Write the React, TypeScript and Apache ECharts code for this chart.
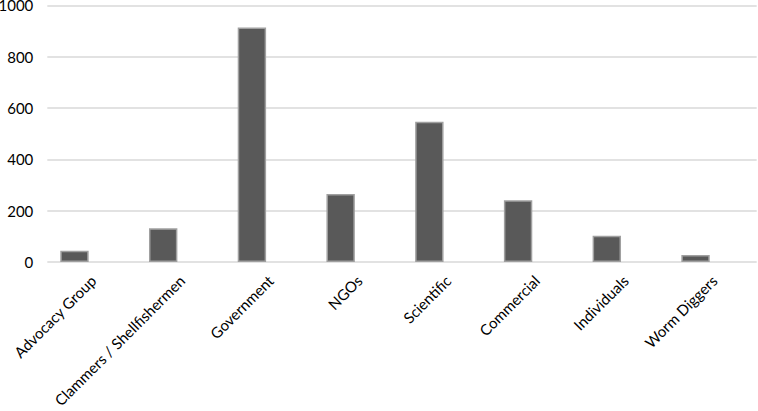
import React, { useEffect, useRef } from "react";
import * as echarts from "echarts";

const categories = [
  "Advocacy Group",
  "Clammers / Shellfishermen",
  "Government",
  "NGOs",
  "Scientific",
  "Commercial",
  "Individuals",
  "Worm Diggers",
];
const values = [44, 131, 914, 265, 546, 241, 102, 27];
const yMin = 0;
const yMax = 1000;
const yInterval = 200;

export default function App() {
  const ref = useRef<HTMLDivElement>(null);
  useEffect(() => {
    if (!ref.current) return;
    const chart = echarts.init(ref.current, undefined, { renderer: "svg" });
    const gridCommon = {
      top: 5.3,
      bottom: 149,
      containLabel: false,
      outerBoundsMode: "none",
    };
    chart.setOption({
      animation: false,
      backgroundColor: "#ffffff",
      grid: [
        // grid for gridlines and value labels
        { ...gridCommon, left: 47.3, right: 1.3 },
        // grid for the bars and category labels
        { ...gridCommon, left: 30.1, right: 18.1 },
      ],
      xAxis: [
        { type: "value", gridIndex: 0, show: false, min: 0, max: 1 },
        {
          type: "category",
          gridIndex: 1,
          data: categories,
          axisLine: { show: false },
          axisTick: { show: false },
          axisLabel: {
            interval: 0,
            rotate: 45,
            margin: 24,
            verticalAlign: "top",
            padding: [0, -19, 0, 0],
            color: "#000000",
            fontFamily: "Lato",
            fontSize: 15,
          },
        },
      ],
      yAxis: [
        {
          type: "value",
          gridIndex: 0,
          min: yMin,
          max: yMax,
          interval: yInterval,
          axisLine: { show: false },
          axisTick: { show: false },
          splitLine: { lineStyle: { color: "#d9d9d9", width: 1.5 } },
          axisLabel: {
            color: "#000000",
            fontFamily: "Lato",
            fontSize: 15,
            margin: 14,
            formatter: (v: number) => String(v),
          },
        },
        {
          type: "value",
          gridIndex: 1,
          min: yMin,
          max: yMax,
          interval: yInterval,
          show: false,
          splitLine: { show: false },
        },
      ],
      series: [
        {
          type: "bar",
          xAxisIndex: 1,
          yAxisIndex: 1,
          data: values,
          barWidth: "32%",
          itemStyle: {
            color: "#595959",
            borderColor: "#a0a0a0",
            borderWidth: 1.5,
          },
        },
      ],
    });
    return () => chart.dispose();
  }, []);
  return (
    <div
      ref={ref}
      style={{ position: "fixed", left: 0, top: 0, width: 758, height: 411 }}
    />
  );
}
